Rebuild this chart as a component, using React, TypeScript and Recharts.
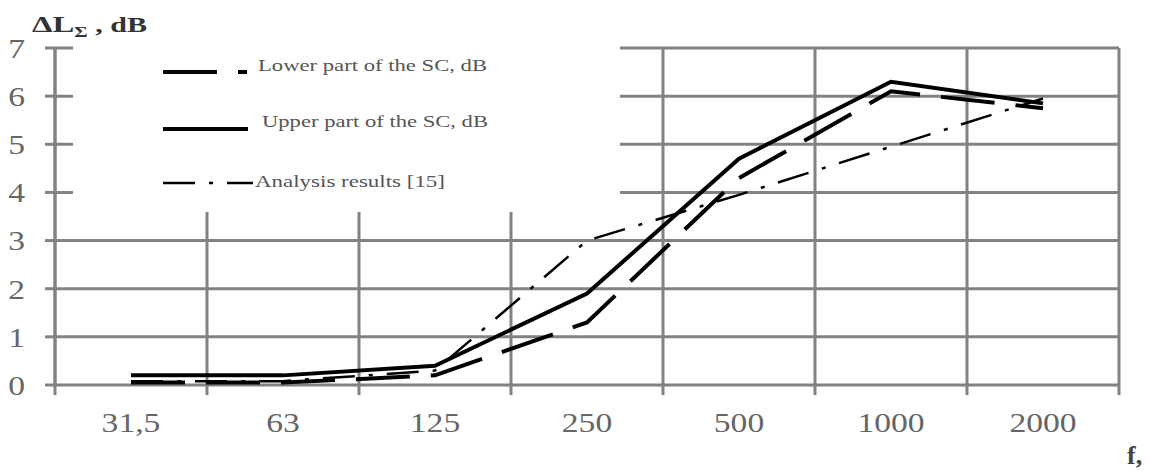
import React from 'react';
import { LineChart, Line, XAxis, YAxis, CartesianGrid, Legend } from 'recharts';

// ---- data ----
const categories = ['31,5', '63', '125', '250', '500', '1000', '2000'];
const lowerPart = [0.05, 0.05, 0.2, 1.3, 4.3, 6.1, 5.75];
const upperPart = [0.2, 0.2, 0.4, 1.9, 4.7, 6.3, 5.85];
const analysisResults = [0.08, 0.08, 0.3, 3.0, 3.95, 4.95, 5.95];
const yTicks = [0, 1, 2, 3, 4, 5, 6, 7];
const seriesNames = {
  lower: 'Lower part of the SC, dB',
  upper: 'Upper part of the SC, dB',
  analysis: 'Analysis results [15]',
};

const data = categories.map((f, i) => ({
  f,
  lower: lowerPart[i],
  upper: upperPart[i],
  analysis: analysisResults[i],
}));

// ---- styles ----
const FONT = 'Liberation Serif, Times New Roman, serif';
const GRID = '#828282';
const seriesStyle: Record<string, { width: number; dash?: string }> = {
  lower: { width: 4, dash: '54 21' },
  upper: { width: 4 },
  analysis: { width: 2.5, dash: '32 14 4 14' },
};

// vertical grid lines at the category band boundaries, taken from the band scale
const bandBoundaries = (args: any) => {
  const xAxis = args && args.xAxis;
  const s = xAxis && xAxis.scale;
  if (s && typeof s === 'function' && typeof s.bandwidth === 'function') {
    const bw = s.bandwidth();
    const pts = categories.map((c) => s(c) as number);
    pts.push(pts[pts.length - 1] + bw);
    return pts;
  }
  const off = args.offset;
  return categories.map((_, i) => off.left + (i * off.width) / categories.length).concat([off.left + off.width]);
};

const XTick = (props: any) => {
  const { x, y, payload, index } = props;
  const half = payload && typeof payload.offset === 'number' ? payload.offset : 0;
  const last = index === categories.length - 1;
  return (
    <g>
      {half > 0 && <line x1={x - half} x2={x - half} y1={y} y2={y + 10} stroke={GRID} strokeWidth={3} />}
      {half > 0 && last && <line x1={x + half} x2={x + half} y1={y} y2={y + 10} stroke={GRID} strokeWidth={3} />}
      <g transform={`translate(${x},${y + 47}) scale(1.2,1)`}>
        <text x={0} y={0} textAnchor="middle" fontFamily={FONT} fontSize={28} fill="#666">
          {payload.value}
        </text>
      </g>
    </g>
  );
};

const YTick = (props: any) => {
  const { x, y, payload } = props;
  return (
    <g transform={`translate(${x},${y}) scale(1.2,1)`}>
      <text x={0} y={0} dy="0.35em" textAnchor="end" fontFamily={FONT} fontSize={28} fill="#666">
        {payload.value}
      </text>
    </g>
  );
};

const YTitle = () => (
  <text x={32} y={32} fontFamily={FONT} fontWeight="bold" fill="#333" textLength={115} lengthAdjust="spacingAndGlyphs">
    <tspan fontSize={24}>ΔL</tspan>
    <tspan fontSize={15} dy={5}>Σ</tspan>
    <tspan fontSize={22} dy={-5}> , dB</tspan>
  </text>
);

const XTitle = () => (
  <text x={1127} y={464} fontFamily={FONT} fontWeight="bold" fontSize={26} fill="#444">
    f,
  </text>
);

const legendLayout: Record<string, { ly: number; x2: number; tx: number; ty: number; tl: number }> = {
  lower: { ly: 32, x2: 174, tx: 185, ty: 31, tl: 229 },
  upper: { ly: 89, x2: 175, tx: 189, ty: 87, tl: 226 },
  analysis: { ly: 143, x2: 180, tx: 182, ty: 147, tl: 190 },
};

const LegendContent = (props: any) => {
  const payload: any[] = props.payload || [];
  return (
    <svg width={547} height={172} style={{ display: 'block' }}>
      {payload.map((p) => {
        const key = p.dataKey as string;
        const st = seriesStyle[key];
        const lay = legendLayout[key];
        if (!st || !lay) return null;
        return (
          <g key={key}>
            <line x1={90} x2={lay.x2} y1={lay.ly} y2={lay.ly} stroke="#000" strokeWidth={st.width} strokeDasharray={st.dash} />
            <text x={lay.tx} y={lay.ty} fontFamily={FONT} fontSize={17} fill="#555" textLength={lay.tl} lengthAdjust="spacingAndGlyphs">
              {p.value}
            </text>
          </g>
        );
      })}
    </svg>
  );
};

export default function App() {
  return (
    <div style={{ position: 'absolute', left: 0, top: 0, width: 1150, height: 471, background: '#fff' }}>
      <LineChart width={1150} height={471} data={data} margin={{ top: 48, right: 31, left: 0, bottom: 26 }}>
        <CartesianGrid
          xAxisId="cat"
          stroke={GRID}
          strokeWidth={3}
          fill="none"
          verticalCoordinatesGenerator={bandBoundaries}
        />
        <XAxis
          xAxisId="cat"
          dataKey="f"
          type="category"
          scale="band"
          interval={0}
          height={60}
          axisLine={false}
          tickLine={false}
          tickSize={0}
          tickMargin={0}
          tick={<XTick />}
          label={<XTitle />}
        />
        <YAxis
          domain={[0, 7]}
          ticks={yTicks}
          interval={0}
          width={55}
          tickSize={10}
          tickMargin={20}
          axisLine={{ stroke: GRID, strokeWidth: 3 }}
          tickLine={{ stroke: GRID, strokeWidth: 3 }}
          tick={<YTick />}
          label={<YTitle />}
        />
        <Legend
          layout="vertical"
          align="center"
          verticalAlign="middle"
          wrapperStyle={{ left: 73, top: 40, width: 547, height: 172, background: '#fff' }}
          content={<LegendContent />}
        />
        <Line
          xAxisId="cat"
          dataKey="lower"
          name={seriesNames.lower}
          type="linear"
          stroke="#000"
          strokeWidth={seriesStyle.lower.width}
          strokeDasharray={seriesStyle.lower.dash}
          dot={false}
          activeDot={false}
          isAnimationActive={false}
        />
        <Line
          xAxisId="cat"
          dataKey="upper"
          name={seriesNames.upper}
          type="linear"
          stroke="#000"
          strokeWidth={seriesStyle.upper.width}
          dot={false}
          activeDot={false}
          isAnimationActive={false}
        />
        <Line
          xAxisId="cat"
          dataKey="analysis"
          name={seriesNames.analysis}
          type="linear"
          stroke="#000"
          strokeWidth={seriesStyle.analysis.width}
          strokeDasharray={seriesStyle.analysis.dash}
          dot={false}
          activeDot={false}
          isAnimationActive={false}
        />
      </LineChart>
    </div>
  );
}
